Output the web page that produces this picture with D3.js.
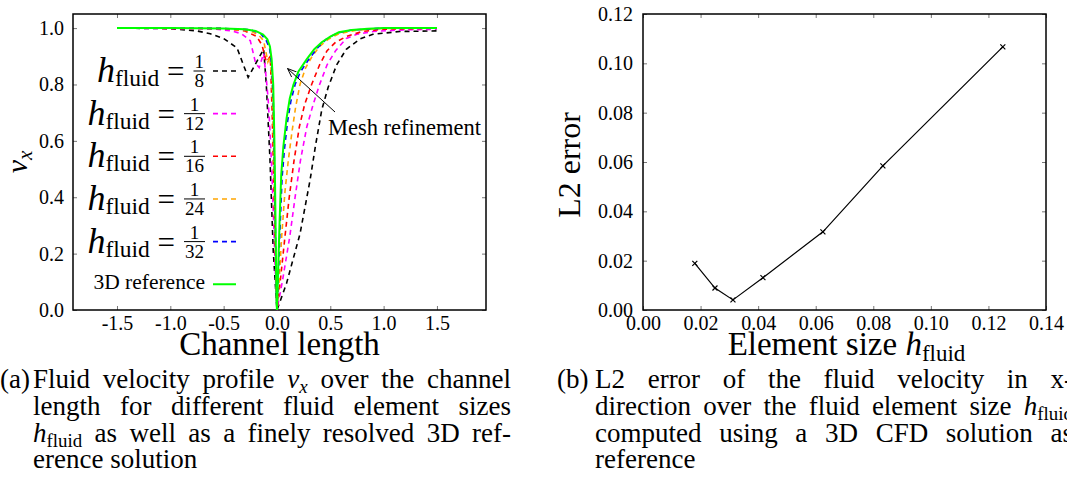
<!DOCTYPE html>
<html><head><meta charset="utf-8">
<script src="https://cdn.jsdelivr.net/npm/d3@7"></script>
<style>
body{margin:0;background:#fff;width:1067px;height:501px;overflow:hidden;position:relative;font-family:"Liberation Serif","DejaVu Serif","Noto Serif",serif;color:#000}
svg{position:absolute;left:0;top:0}
.cap{position:absolute;font-size:27px;line-height:27px;white-space:normal}
.cap sub{font-size:70%;vertical-align:-0.28em;line-height:0}
</style></head><body>
<script>
// ---------------- DATA ----------------
// Left panel: v_x over channel length, one array per mesh size [x, v]
const seriesH8 = [[-1.5,1.0],[-1.0,0.998],[-0.75,0.99],[-0.625,0.98],[-0.5,0.963],[-0.375,0.93],[-0.27,0.825],[-0.22,0.86],[-0.125,0.925],[-0.1,0.8],[-0.066,0.54],[-0.035,0.21],[0,0],[0.09,0.095],[0.216,0.27],[0.31,0.46],[0.36,0.58],[0.42,0.71],[0.48,0.79],[0.56,0.87],[0.65,0.925],[0.78,0.962],[0.9,0.978],[1.15,0.988],[1.5,0.99]];
const seriesH12 = [[-1.5,1.0],[-0.6,0.997],[-0.42,0.99],[-0.333,0.98],[-0.25,0.955],[-0.2,0.875],[-0.167,0.86],[-0.125,0.91],[-0.1,0.82],[-0.083,0.75],[-0.066,0.64],[-0.05,0.51],[-0.03,0.3],[-0.01,0.08],[0,0],[0.05,0.1],[0.12,0.26],[0.17,0.4],[0.22,0.53],[0.28,0.65],[0.34,0.73],[0.4,0.8],[0.47,0.87],[0.55,0.92],[0.65,0.963],[0.75,0.978],[0.9,0.988],[1.2,0.994],[1.5,0.996]];
const seriesH16 = [[-1.5,1.0],[-0.5,0.998],[-0.3,0.99],[-0.19,0.97],[-0.14,0.94],[-0.1,0.88],[-0.0625,0.9],[-0.045,0.7],[-0.03,0.45],[-0.015,0.2],[0,0],[0.03,0.1],[0.075,0.26],[0.115,0.4],[0.16,0.53],[0.21,0.65],[0.26,0.73],[0.325,0.8],[0.4,0.87],[0.47,0.92],[0.55,0.95],[0.65,0.97],[0.8,0.988],[1.0,0.996],[1.5,1.0]];
const seriesH24 = [[-1.5,1.0],[-0.5,0.999],[-0.25,0.99],[-0.17,0.975],[-0.125,0.955],[-0.085,0.88],[-0.065,0.9],[-0.045,0.8],[-0.03,0.55],[-0.015,0.25],[0,0],[0.02,0.1],[0.044,0.26],[0.075,0.42],[0.106,0.53],[0.14,0.63],[0.175,0.72],[0.216,0.8],[0.27,0.86],[0.33,0.9],[0.4,0.935],[0.48,0.96],[0.58,0.98],[0.75,0.993],[1.0,0.999],[1.5,1.0]];
const seriesH32 = [[-1.5,1.0],[-0.5,0.999],[-0.25,0.994],[-0.15,0.98],[-0.1,0.955],[-0.07,0.93],[-0.05,0.87],[-0.035,0.75],[-0.025,0.55],[-0.015,0.3],[-0.005,0.05],[0,0],[0.015,0.15],[0.03,0.3],[0.048,0.47],[0.07,0.57],[0.1,0.67],[0.13,0.74],[0.17,0.8],[0.22,0.845],[0.3,0.89],[0.38,0.93],[0.46,0.96],[0.56,0.982],[0.7,0.993],[1.0,1.0],[1.5,1.0]];
const seriesRef = [[-1.5,1.0],[-1.0,1.0],[-0.5,0.999],[-0.3,0.996],[-0.2,0.99],[-0.13,0.977],[-0.09,0.96],[-0.066,0.935],[-0.05,0.89],[-0.035,0.8],[-0.025,0.62],[-0.018,0.45],[-0.01,0.2],[-0.004,0.03],[0,0],[0.012,0.15],[0.025,0.32],[0.04,0.48],[0.06,0.58],[0.09,0.68],[0.12,0.75],[0.155,0.8],[0.2,0.845],[0.28,0.89],[0.35,0.925],[0.42,0.95],[0.5,0.97],[0.58,0.985],[0.7,0.993],[0.85,0.998],[1.0,1.0],[1.5,1.0]];
const legendDenoms = ["8","12","16","24","32"];
const seriesColors = ["#000000","#ff00ff","#ff0000","#ffa500","#0000ff"];
const refColor = "#00ff00";
const xTicksL = [-1.5,-1.0,-0.5,0.0,0.5,1.0,1.5];
const xTickLabelsL = ["-1.5","-1.0","-0.5","0.0","0.5","1.0","1.5"];
const yTicksL = [0.0,0.2,0.4,0.6,0.8,1.0];
const yTickLabelsL = ["0.0","0.2","0.4","0.6","0.8","1.0"];
// Right panel: L2 error over element size
const elemSize = [0.018,0.025,0.03125,0.04167,0.0625,0.08333,0.125];
const l2Error = [0.0189,0.0089,0.0041,0.0131,0.0317,0.0584,0.1067];
const xTicksR = [0.00,0.02,0.04,0.06,0.08,0.10,0.12,0.14];
const xTickLabelsR = ["0.00","0.02","0.04","0.06","0.08","0.10","0.12","0.14"];
const yTicksR = [0.00,0.02,0.04,0.06,0.08,0.10,0.12];
const yTickLabelsR = ["0.00","0.02","0.04","0.06","0.08","0.10","0.12"];

// ---------------- DRAW ----------------
const svg = d3.select('body').append('svg').attr('width',1067).attr('height',501);
const FONT = "'Liberation Serif', 'DejaVu Serif', 'Noto Serif', serif";
const tickCol = '#777';

function styleAxis(g, fs){
  g.select('.domain').remove();
  g.attr('font-family', null).attr('font-size', null);
  g.style('font-family', FONT).style('font-size', fs+'px');
  g.selectAll('.tick line').attr('stroke', tickCol).attr('stroke-width',1);
  g.selectAll('.tick text').attr('fill','#000');
}
function txt(sel){ return sel.style('font-family', FONT); }
function frameAxes(x, y, xt, xl, yt, yl, L, R, T, B, padX, padY){
  const fmtX = d => xl[xt.indexOf(d)];
  const fmtY = d => yl[yt.indexOf(d)];
  svg.append('g').attr('transform',`translate(0,${B})`)
    .call(d3.axisBottom(x).tickValues(xt).tickFormat(fmtX).tickSize(-4).tickPadding(padX))
    .call(g=>styleAxis(g,20));
  svg.append('g').attr('transform',`translate(0,${T})`)
    .call(d3.axisTop(x).tickValues(xt).tickFormat('').tickSize(-4))
    .call(g=>styleAxis(g,20));
  svg.append('g').attr('transform',`translate(${L},0)`)
    .call(d3.axisLeft(y).tickValues(yt).tickFormat(fmtY).tickSize(-4).tickPadding(padY))
    .call(g=>styleAxis(g,20));
  svg.append('g').attr('transform',`translate(${R},0)`)
    .call(d3.axisRight(y).tickValues(yt).tickFormat('').tickSize(-4))
    .call(g=>styleAxis(g,20));
  svg.append('rect').attr('x',L).attr('y',T).attr('width',R-L).attr('height',B-T)
    .attr('fill','none').attr('stroke','#000').attr('stroke-width',1.5);
}

// ---- Left panel ----
const L1=73, R1=486, T1=14, B1=310;
const xL = d3.scaleLinear().domain([-1.9125,1.96]).range([L1,R1]);
const yL = d3.scaleLinear().domain([0,1.05]).range([B1,T1]);
frameAxes(xL,yL,xTicksL,xTickLabelsL,yTicksL,yTickLabelsL,L1,R1,T1,B1,6,9);

const lineL = d3.line().x(d=>xL(d[0])).y(d=>yL(d[1]));
const dashedSeries = [seriesH8,seriesH12,seriesH16,seriesH24,seriesH32];
dashedSeries.forEach((s,i)=>{
  svg.append('path').datum(s).attr('d',lineL).attr('fill','none')
    .attr('stroke',seriesColors[i]).attr('stroke-width',1.6).attr('stroke-dasharray','5,4');
});
svg.append('path').datum(seriesRef).attr('d',lineL).attr('fill','none')
  .attr('stroke',refColor).attr('stroke-width',2);

// legend
const legY0 = 71, legDy = 42.65, sampX0 = 213, sampX1 = 236, fracR = 205;
legendDenoms.forEach((den,i)=>{
  const yy = legY0 + i*legDy;
  svg.append('line').attr('x1',sampX0).attr('x2',sampX1).attr('y1',yy).attr('y2',yy)
    .attr('stroke',seriesColors[i]).attr('stroke-width',1.6).attr('stroke-dasharray','5,4');
  const dt = txt(svg.append('text')).style('font-size','19px')
    .attr('text-anchor','middle').text(den);
  const w = dt.node().getComputedTextLength() + 2;
  const cx = fracR - w/2;
  dt.attr('x',cx).attr('y',yy+16);
  txt(svg.append('text')).style('font-size','19px')
    .attr('text-anchor','middle').attr('x',cx).attr('y',yy-3).text('1');
  svg.append('line').attr('x1',fracR-w).attr('x2',fracR).attr('y1',yy).attr('y2',yy)
    .attr('stroke','#000').attr('stroke-width',1);
  const t = txt(svg.append('text')).attr('text-anchor','end')
    .attr('x',fracR-w-9).attr('y',yy+11);
  t.append('tspan').style('font-style','italic').style('font-size','36px').text('h');
  t.append('tspan').style('font-size','23.5px').attr('dy',4).text('fluid');
  t.append('tspan').style('font-size','31px').attr('dy',-4).text('\u00a0=');
});
{
  const yy = legY0 + 5*legDy;
  svg.append('line').attr('x1',sampX0).attr('x2',sampX1).attr('y1',yy).attr('y2',yy)
    .attr('stroke',refColor).attr('stroke-width',2);
  txt(svg.append('text')).style('font-size','21.5px').attr('text-anchor','end')
    .attr('x',fracR).attr('y',yy+5).text('3D reference');
}
// annotation arrow
svg.append('defs').append('marker').attr('id','ah').attr('viewBox','0 0 10 10')
  .attr('refX',10).attr('refY',5).attr('markerWidth',9).attr('markerHeight',9)
  .attr('orient','auto').attr('markerUnits','userSpaceOnUse')
  .append('path').attr('d','M0,1 L10,5 L0,9').attr('fill','none').attr('stroke','#000').attr('stroke-width',1);
svg.append('line').attr('x1',335).attr('y1',112).attr('x2',287.5).attr('y2',68.5)
  .attr('stroke','#000').attr('stroke-width',1).attr('marker-end','url(#ah)');
txt(svg.append('text')).style('font-size','22.5px').attr('x',328).attr('y',135)
  .text('Mesh refinement');
// axis titles
txt(svg.append('text')).style('font-size','33px').attr('text-anchor','middle')
  .attr('x',(L1+R1)/2).attr('y',355).text('Channel length');
{
  const t = txt(svg.append('text')).attr('text-anchor','middle')
    .attr('transform','translate(27,162) rotate(-90)');
  t.append('tspan').style('font-style','italic').style('font-size','30px').text('v');
  t.append('tspan').style('font-style','italic').style('font-size','21px').attr('dy',5).text('x');
}

// ---- Right panel ----
const L2=643, R2=1046, T2=14, B2=310;
const xR = d3.scaleLinear().domain([0,0.14]).range([L2,R2]);
const yR = d3.scaleLinear().domain([0,0.12]).range([B2,T2]);
frameAxes(xR,yR,xTicksR,xTickLabelsR,yTicksR,yTickLabelsR,L2,R2,T2,B2,6,10);
const pts = elemSize.map((h,i)=>[h,l2Error[i]]);
svg.append('path').datum(pts).attr('d',d3.line().x(d=>xR(d[0])).y(d=>yR(d[1])))
  .attr('fill','none').attr('stroke','#000').attr('stroke-width',1.2);
svg.selectAll('path.mk').data(pts).enter().append('path').attr('class','mk')
  .attr('d',d=>{const x=xR(d[0]),y=yR(d[1]),s=2.5;return `M${x-s},${y-s}L${x+s},${y+s}M${x-s},${y+s}L${x+s},${y-s}`;})
  .attr('stroke','#000').attr('stroke-width',1.2);
txt(svg.append('text')).style('font-size','32px').attr('text-anchor','middle')
  .attr('transform','translate(580,165) rotate(-90)').text('L2 error');
{
  const t = txt(svg.append('text')).attr('text-anchor','middle')
    .attr('x',(L2+R2)/2 + 2).attr('y',355);
  t.append('tspan').style('font-size','33px').text('Element size ');
  t.append('tspan').style('font-size','33px').style('font-style','italic').text('h');
  t.append('tspan').style('font-size','23px').attr('dy',6).text('fluid');
}

// ---------------- CAPTIONS ----------------
const capLinesA = ['Fluid velocity profile <i>v</i><sub><i>x</i></sub> over the channel',
  'length for different fluid element sizes',
  '<i>h</i><sub>fluid</sub> as well as a finely resolved 3D ref-',
  'erence solution'];
const capLinesB = ['L2 error of the fluid velocity in x-',
  'direction over the fluid element size <i>h</i><sub>fluid</sub>',
  'computed using a 3D CFD solution as',
  'reference'];
const baselines = [389, 415.7, 442.3, 469];
function caption(label, labelX, textX, lines){
  d3.select('body').append('div').attr('class','cap')
    .style('left',labelX+'px').style('top',(baselines[0]-22.6)+'px').text(label);
  lines.forEach((ln,i)=>{
    d3.select('body').append('div').attr('class','cap')
      .style('left',textX+'px').style('top',(baselines[i]-22.6)+'px')
      .style('width','478px')
      .style('text-align', i<lines.length-1 ? 'justify':'left')
      .style('text-align-last', i<lines.length-1 ? 'justify':'left')
      .html(ln);
  });
}
caption('(a)', 0, 33, capLinesA);
caption('(b)', 557, 595, capLinesB);
</script>
</body></html>
